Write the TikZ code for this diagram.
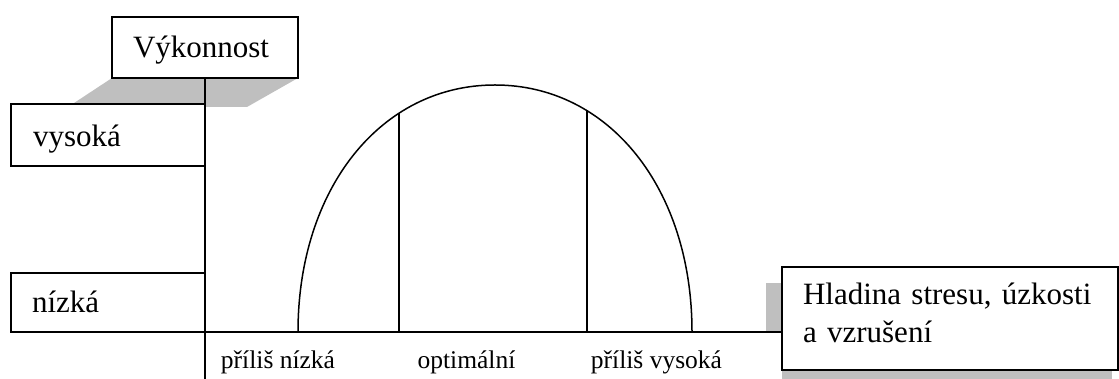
\documentclass[tikz,border=0pt]{standalone}
\usepackage{fontspec}
\setmainfont{Liberation Serif}
\usetikzlibrary{calc}
\begin{document}
\begin{tikzpicture}[x=1pt,y=1pt,
  box/.style={draw, line width=1.8pt, fill=white, anchor=north west, outer sep=0pt,
    inner ysep=0pt, align=left, font=\fontsize{31}{38}\selectfont},
  axisline/.style={line width=1.5pt},
  shadowfill/.style={fill=black!25, draw=none},
  scalelabel/.style={anchor=base, font=\fontsize{25.5}{30}\selectfont, inner sep=0pt}]
\useasboundingbox (0,0) rectangle (1119,379);
% shadows
\fill[shadowfill] (112,301) -- (298,301) -- (247,272) -- (68,272) -- cycle;
\fill[shadowfill] (766,47) rectangle (782,96);
\fill[shadowfill] (782,0) rectangle (1112,9);
% boxes
\node[box, minimum width=186pt, minimum height=61pt, text width=144pt, inner xsep=21pt,
  text height=23pt, text depth=2pt] (vyk) at (112,362) {Výkonnost};
\node[box, minimum width=194pt, minimum height=62pt, text width=150pt, inner xsep=22pt,
  text height=25pt, text depth=1pt] (vys) at (11,275) {vysoká};
\node[box, minimum width=194pt, minimum height=59pt, text width=152pt, inner xsep=21pt,
  text height=23pt, text depth=2pt] (niz) at (11,106) {nízká};
\node[box, minimum width=336pt, minimum height=103pt, text width=294pt, inner xsep=21pt,
  text height=24pt, text depth=51pt] (hlad) at (782,112) {Hladina stresu, úzkosti\\a vzrušení};
% axes
\coordinate (axbot) at (205,0);
\draw[axisline] (vyk.south) -- (vyk.south |- axbot);
\draw[axisline] (niz.south east) -- (niz.south east -| hlad.west);
% curve
\coordinate (cl) at (298,47);
\coordinate (ct) at (495,294);
\coordinate (cr) at (692,47);
\draw[axisline] (cl) .. controls (298,190.3) and (380.7,294) .. (ct)
  .. controls (609.3,294) and (692,190.3) .. (cr);
\coordinate (l1top) at (399,266);
\coordinate (l2top) at (587,268.3);
\draw[axisline] (l1top) -- (l1top |- cl);
\draw[axisline] (l2top) -- (l2top |- cl);
% scale labels
\node[scalelabel] (lo) at (278,10) {příliš nízká};
\node[scalelabel] (opt) at (466.5,10) {optimální};
\node[scalelabel] (hi) at (656.5,10) {příliš vysoká};
\end{tikzpicture}
\end{document}
